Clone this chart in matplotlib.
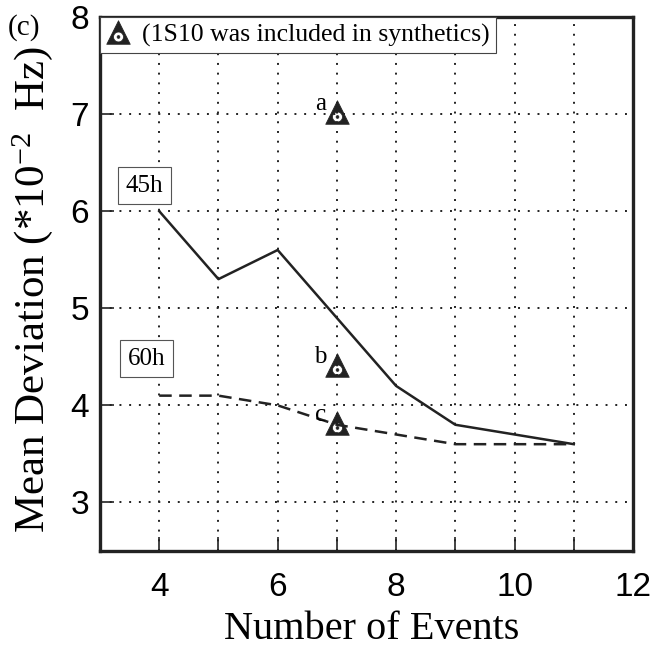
import matplotlib
matplotlib.use('Agg')
import numpy as np
import matplotlib.pyplot as plt
from matplotlib.path import Path
from matplotlib.lines import Line2D

# data
events = [4, 5, 6, 7, 8, 9, 10, 11]
dev_45h = [6.0, 5.3, 5.6, 4.9, 4.2, 3.8, 3.7, 3.6]
dev_60h = [4.1, 4.1, 4.0, 3.8, 3.7, 3.6, 3.6, 3.6]
synth_x = [7, 7, 7]
synth_y = [7.02, 4.42, 3.82]
synth_labels = ['a', 'b', 'c']
x_ticks = [4, 6, 8, 10, 12]
y_ticks = [3, 4, 5, 6, 7, 8]

plt.rcParams['mathtext.fontset'] = 'custom'
plt.rcParams['mathtext.rm'] = 'Liberation Serif'
plt.rcParams['mathtext.it'] = 'Liberation Serif:italic'
serif = 'Liberation Serif'
sans = 'Liberation Sans'

# triangle marker with a round hole and a dot in the middle
t = np.linspace(0, 2 * np.pi, 40)
cy = -0.38
tri = [(0, 1), (-1, -1), (1, -1), (0, 1)]
hole = list(zip(0.42 * np.cos(-t), cy + 0.42 * np.sin(-t)))
dot = list(zip(0.12 * np.cos(t), cy + 0.12 * np.sin(t)))
verts = tri + hole + dot
codes = ([Path.MOVETO] + [Path.LINETO] * 2 + [Path.CLOSEPOLY]
         + [Path.MOVETO] + [Path.LINETO] * (len(hole) - 1)
         + [Path.MOVETO] + [Path.LINETO] * (len(dot) - 1))
synth_mark = Path(verts, codes)

fig = plt.figure(figsize=(6.72, 6.48), dpi=100)
ax = fig.add_axes([0.1488, 0.1497, 0.7932, 0.8241])

ax.plot(events, dev_45h, color='#222222', linewidth=1.8)
ax.plot(events, dev_60h, color='#222222', linewidth=1.8, linestyle=(0, (5, 3)))

ax.plot(synth_x, synth_y, linestyle='none', marker=synth_mark, markersize=17,
        markerfacecolor='#222222', markeredgecolor='#222222', markeredgewidth=0.5, zorder=5)
for xv, yv, lab in zip(synth_x, synth_y, synth_labels):
    ax.text(xv - 0.28, yv + 0.08, lab, family=serif, fontsize=18, ha='center', va='center')

ax.text(3.75, 6.26, '45h', family=serif, fontsize=18, ha='center', va='center',
        bbox=dict(boxstyle='square,pad=0.3', facecolor='white', edgecolor='#555555', linewidth=0.8))
ax.text(3.79, 4.48, '60h', family=serif, fontsize=18, ha='center', va='center',
        bbox=dict(boxstyle='square,pad=0.3', facecolor='white', edgecolor='#555555', linewidth=0.8))

proxy = Line2D([], [], linestyle='none', marker=synth_mark, markersize=17,
               markerfacecolor='#222222', markeredgecolor='#222222', markeredgewidth=0.5)
leg = ax.legend([proxy], ['(1S10 was included in synthetics)'],
                loc='upper left', bbox_to_anchor=(0, 1), borderaxespad=0,
                fancybox=False, framealpha=1, edgecolor='#444444',
                prop={'family': serif, 'size': 18.5}, handlelength=0.9,
                handletextpad=0.5, borderpad=0.25)
leg.get_frame().set_linewidth(0.8)

ax.set_xlim(3, 12)
ax.set_ylim(2.5, 8)
ax.set_xticks(range(4, 12), minor=True)
ax.set_xticks(x_ticks)
ax.set_yticks(y_ticks)
ax.set_xticklabels([str(t) for t in x_ticks], family=sans, fontsize=24)
ax.set_yticklabels([str(t) for t in y_ticks], family=sans, fontsize=24)
ax.tick_params(which='both', direction='in', length=10, width=1.2, color='#222222')
ax.tick_params(axis='x', pad=15)
ax.tick_params(axis='y', pad=8)
ax.grid(True, which='both', axis='x', color='#222222', linestyle=(0, (1, 4)), linewidth=1.4)
ax.grid(True, axis='y', color='#222222', linestyle=(0, (1, 4)), linewidth=1.4)
ax.set_axisbelow(True)
for s in ax.spines.values():
    s.set_linewidth(2.4)
    s.set_color('#222222')

ax.set_xlabel('Number of Events', family=serif, fontsize=29)
ax.xaxis.set_label_coords(0.51, -0.112)
ax.set_ylabel(r'Mean Deviation (*10$^{-2}$  Hz)', family=serif, fontsize=31)
ax.yaxis.set_label_coords(-0.085, 0.49)
fig.text(0.012, 0.978, '(c)', family=serif, fontsize=21, ha='left', va='top')

plt.savefig('out.png', dpi=100)
plt.close()
